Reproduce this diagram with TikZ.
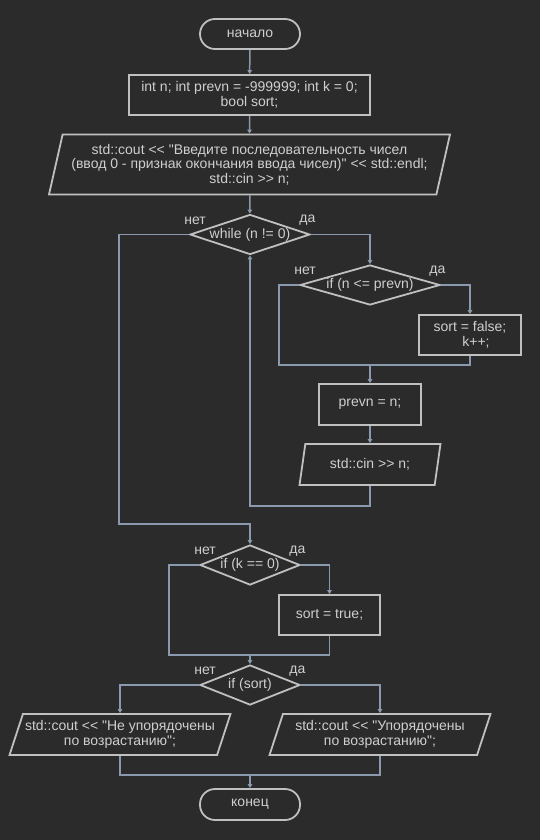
\documentclass[tikz,border=0pt]{standalone}
\usepackage{fontspec}
\setmainfont{Liberation Sans}[Ligatures=TeXOff]
\usepackage{tikz}
\usetikzlibrary{arrows.meta,shapes.geometric,positioning}
\definecolor{bgcol}{HTML}{2B2B2B}
\definecolor{edgecol}{HTML}{C0C0C0}
\definecolor{txtcol}{HTML}{CFCFCF}
\definecolor{linkcol}{HTML}{8A99AD}
\tikzset{
    term/.style={draw=edgecol, line width=1.8pt, rectangle, rounded corners=15pt, minimum width=100pt, minimum height=30pt, text=txtcol},
    proc/.style={draw=edgecol, line width=1.8pt, rectangle, minimum width=102pt, minimum height=40pt, align=center, inner sep=0pt, text=txtcol},
    io/.style={draw=edgecol, line width=1.8pt, trapezium, trapezium left angle=64, trapezium right angle=116, trapezium stretches body, minimum height=41pt, align=center, inner sep=0pt, text=txtcol},
    cond/.style={draw=edgecol, line width=1.8pt, diamond, minimum height=40pt, inner sep=0pt, text=txtcol},
    lbl/.style={text=txtcol, inner sep=0pt},
    line/.style={draw=linkcol, line width=1.5pt},
    flow/.style={line, -{Triangle[length=4pt, width=4.5pt]}}
}

\begin{document}
\begin{tikzpicture}[x=1pt, y=-1pt, font=\fontsize{14pt}{14.5pt}\selectfont]
            \fill[bgcol] (0,0) rectangle (540,840);
            \useasboundingbox (0,0) rectangle (540,840);

            % Start and setup
            \node[term] (start) at (250,34) {начало};
            \node[proc, minimum width=241pt] (init) at (249.5,95) {int n; int prevn = -999999; int k = 0;\\bool sort;};
            \node[io, minimum width=401pt, minimum height=60pt, trapezium left angle=71.6, trapezium right angle=108.4] (input) at (249.5,164.5)
                {std::cout << "Введите последовательность чисел\\(ввод 0 - признак окончания ввода чисел)" << std::endl;\\std::cin >> n;};
            \draw[flow] (start) -- (init);
            \draw[flow] (init) -- (input);

            % Loop: while (n != 0)
            \node[cond, minimum width=120pt, shape aspect=3] (while) at (250,234.5) {while (n != 0)};
            \node[lbl] at ([xshift=6pt, yshift=14pt]while.west) {нет};
            \node[lbl] at ([xshift=-3.5pt, yshift=14pt]while.east) {да};
            \draw[flow] (input) -- (while);

            \node[cond, minimum width=140pt, shape aspect=3.5] (ifprev) at (370,285) {if (n <= prevn)};
            \node[lbl] at ([xshift=6pt, yshift=14pt]ifprev.west) {нет};
            \node[lbl] at ([xshift=-3.5pt, yshift=14pt]ifprev.east) {да};
            \node[proc] (sortf) at (470,335) {sort = false;\\\hspace*{12pt}k++;};
            \coordinate (j1) at (370,365);
            \node[proc, minimum height=41pt] (prevn) at (370,404.5) {prevn = n;};
            \node[io, minimum width=141pt] (cinn) at (370,464.5) {std::cin >> n;};
            \draw[flow] (while.east) -| (ifprev.north);
            \draw[flow] (ifprev.east) -| (sortf.north);
            \draw[line] (ifprev.west) -- ++(-20,0) |- (j1) -| (sortf.south);
            \draw[flow] (j1) -- (prevn);
            \draw[flow] (prevn) -- (cinn);
            \draw[flow] (cinn.south) -- ++(0,20) -| (while.south);

            % After loop: if (k == 0)
            \coordinate (j2) at (250,524);
            \node[cond, minimum width=100pt, shape aspect=2.5] (ifk) at (250,565) {if (k == 0)};
            \node[lbl] at ([xshift=6pt, yshift=14pt]ifk.west) {нет};
            \node[lbl] at ([xshift=-3.5pt, yshift=14pt]ifk.east) {да};
            \node[proc, minimum width=101pt] (sortt) at (329.5,615) {sort = true;};
            \coordinate (j3) at (250,655);
            \draw[flow] (while.west) -- ++(-70,0) |- (j2) -- (ifk.north);
            \draw[flow] (ifk.east) -| (sortt.north);
            \draw[line] (ifk.west) -- ++(-30,0) |- (j3) -| (sortt.south);

            % Output: if (sort)
            \node[cond, minimum width=100pt, shape aspect=2.5] (ifsort) at (250,685) {if (sort)};
            \node[lbl] at ([xshift=6pt, yshift=14pt]ifsort.west) {нет};
            \node[lbl] at ([xshift=-3.5pt, yshift=14pt]ifsort.east) {да};
            \node[io, minimum width=221pt] (outno) at (120,734.5) {std::cout << "Не упорядочены\\по возрастанию";};
            \node[io, minimum width=221pt] (outyes) at (380,734.5) {std::cout << "Упорядочены\\по возрастанию";};
            \coordinate (j4) at (250,775);
            \node[term, minimum height=31pt] (stop) at (250,804.5) {конец};
            \draw[flow] (j3) -- (ifsort);
            \draw[flow] (ifsort.west) -| (outno.north);
            \draw[flow] (ifsort.east) -| (outyes.north);
            \draw[line] (outno.south) |- (j4) -| (outyes.south);
            \draw[flow] (j4) -- (stop);
\end{tikzpicture}
\end{document}
